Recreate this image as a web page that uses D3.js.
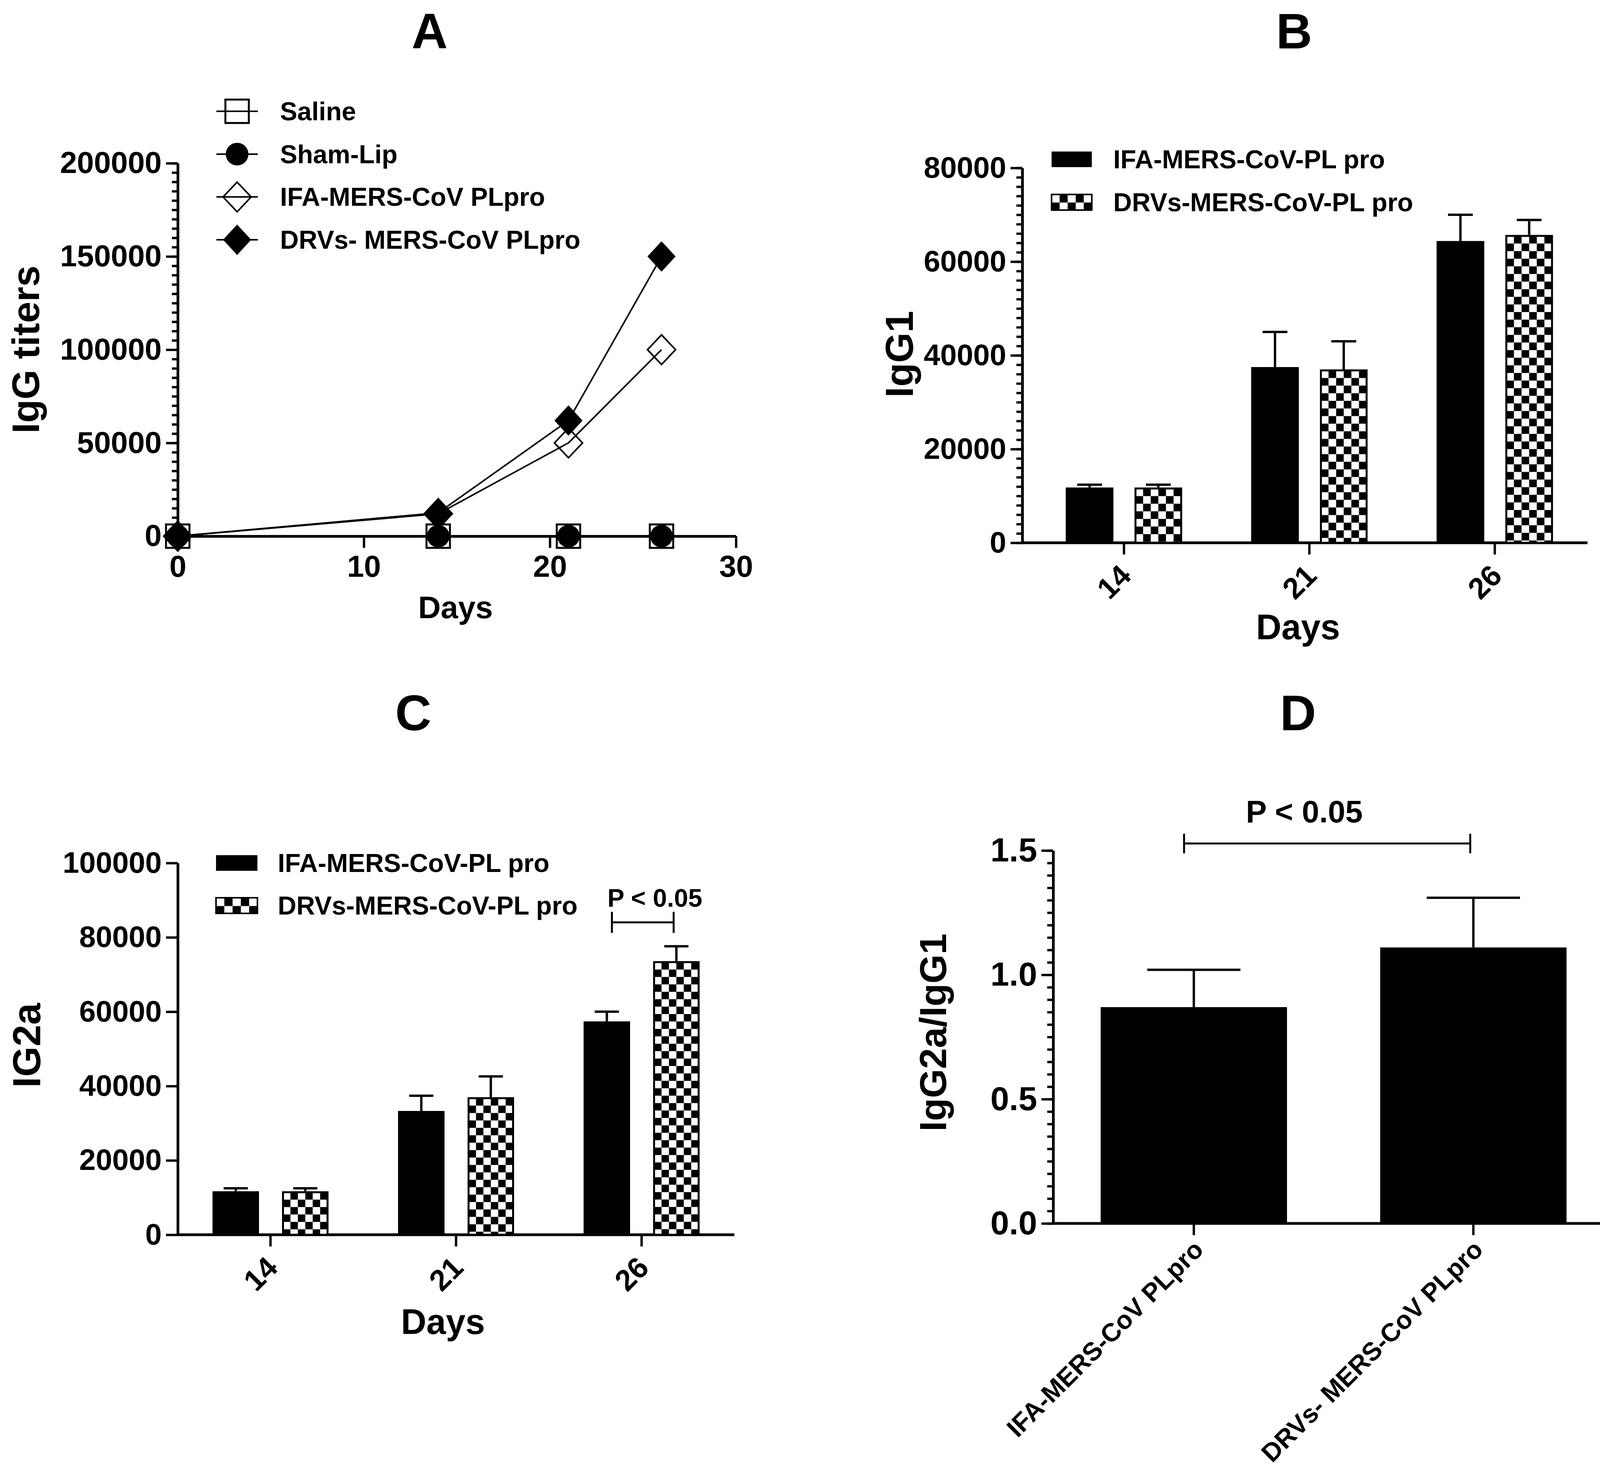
<!DOCTYPE html>
<html>
<head>
<meta charset="utf-8">
<script src="https://cdn.jsdelivr.net/npm/d3@7"></script>
<style>
  html, body { margin: 0; padding: 0; background: #fff; }
  svg { display: block; font-family: "Liberation Sans", Arial, sans-serif; font-weight: bold; }
</style>
</head>
<body>
<svg id="chart" width="4146" height="3767"></svg>
<script>
// ---- data -------------------------------------------------------------
// Panel A: IgG titers over days
const daysA = [0, 14, 21, 26];
const salineA = [0, 0, 0, 0];
const shamLipA = [0, 0, 0, 0];
const ifaA = [0, 12000, 50000, 100000];
const drvsA = [0, 12500, 62000, 150000];
const namesA = ["Saline", "Sham-Lip", "IFA-MERS-CoV PLpro", "DRVs- MERS-CoV PLpro"];
const xTicksA = [0, 10, 20, 30];
const yTicksA = [0, 50000, 100000, 150000, 200000];

// Panels B and C: grouped bars per day
const dayGroups = ["14", "21", "26"];
const barNames = ["IFA-MERS-CoV-PL pro", "DRVs-MERS-CoV-PL pro"];

const igg1Ifa = [11800, 37500, 64400];
const igg1IfaErr = [600, 7500, 5600];
const igg1Drvs = [11800, 37000, 65700];
const igg1DrvsErr = [600, 6000, 3200];
const yTicksB = [0, 20000, 40000, 60000, 80000];

const ig2aIfa = [11700, 33300, 57400];
const ig2aIfaErr = [800, 4100, 2600];
const ig2aDrvs = [11700, 37000, 73600];
const ig2aDrvsErr = [800, 5600, 4000];
const yTicksC = [0, 20000, 40000, 60000, 80000, 100000];

// Panel D: IgG2a/IgG1 ratio
const ratioGroups = ["IFA-MERS-CoV PLpro", "DRVs- MERS-CoV PLpro"];
const ratioValues = [0.87, 1.11];
const ratioErr = [0.15, 0.2];
const yTicksD = [0, 0.5, 1.0, 1.5];

// ---- helpers ----------------------------------------------------------
const svg = d3.select("#chart");
const defs = svg.append("defs");
svg.append("rect").attr("width", 4146).attr("height", 3767).attr("fill", "#fff");

function styleAxis(g, fontSize) {
  g.select(".domain").attr("stroke", "#000").attr("stroke-width", 7);
  g.selectAll(".tick line").attr("stroke", "#000").attr("stroke-width", 6);
  g.selectAll(".tick text")
    .attr("fill", "#000")
    .attr("font-size", fontSize)
    .attr("font-family", "Liberation Sans, Arial, sans-serif")
    .attr("font-weight", "bold");
}

function yAxis(x, y, ticks, minorStep, fontSize, fmt) {
  if (minorStep) {
    const [lo, hi] = y.domain();
    svg.append("g")
      .attr("transform", `translate(${x},0)`)
      .call(d3.axisLeft(y)
        .tickValues(d3.range(lo, hi + minorStep / 2, minorStep))
        .tickSize(15).tickSizeOuter(0).tickFormat(""))
      .call((g) => g.select(".domain").remove())
      .call((g) => g.selectAll(".tick line").attr("stroke", "#000").attr("stroke-width", 6));
  }
  svg.append("g")
    .attr("transform", `translate(${x},0)`)
    .call(d3.axisLeft(y).tickValues(ticks).tickSize(30).tickSizeOuter(0)
      .tickPadding(11).tickFormat(fmt))
    .call((g) => styleAxis(g, fontSize));
}

function title(text, x, y) {
  svg.append("text").attr("x", x).attr("y", y)
    .attr("text-anchor", "middle").attr("font-size", 128).text(text);
}

function yTitle(text, x, y, size) {
  svg.append("text")
    .attr("transform", `translate(${x},${y}) rotate(-90)`)
    .attr("text-anchor", "middle").attr("font-size", size).text(text);
}

function xTitle(text, x, y, size) {
  svg.append("text").attr("x", x).attr("y", y)
    .attr("text-anchor", "middle").attr("font-size", size).text(text);
}

function diamondPath(w, h) {
  return `M0,${-h}L${w},0L0,${h}L${-w},0Z`;
}

let patternId = 0;
function checker(x, y, cell) {
  const id = `chk-${patternId++}`;
  const p = defs.append("pattern")
    .attr("id", id)
    .attr("patternUnits", "userSpaceOnUse")
    .attr("x", x).attr("y", y)
    .attr("width", cell * 2).attr("height", cell * 2);
  p.append("rect").attr("width", cell * 2).attr("height", cell * 2).attr("fill", "#fff");
  p.append("rect").attr("x", cell).attr("width", cell).attr("height", cell).attr("fill", "#000");
  p.append("rect").attr("y", cell).attr("width", cell).attr("height", cell).attr("fill", "#000");
  return `url(#${id})`;
}

function errorBar(g, cx, yTop, yErr, capW) {
  g.append("path")
    .attr("d", `M${cx},${yTop}V${yErr}M${cx - capW / 2},${yErr}H${cx + capW / 2}`)
    .attr("fill", "none").attr("stroke", "#000").attr("stroke-width", 6);
}

function bracket(x1, x2, y, half) {
  svg.append("path")
    .attr("d", `M${x1},${y - half}V${y + half}M${x1},${y}H${x2}M${x2},${y - half}V${y + half}`)
    .attr("fill", "none").attr("stroke", "#000").attr("stroke-width", 5);
}

// ---- Panel A ----------------------------------------------------------
(function panelA() {
  const x = d3.scaleLinear().domain([0, 30]).range([455, 1884]);
  const y = d3.scaleLinear().domain([0, 200000]).range([1373, 418]);

  title("A", 1100, 124);

  yAxis(x(0), y, yTicksA, 5000, 78, d3.format("d"));
  svg.append("g")
    .attr("transform", `translate(0,${y(0)})`)
    .call(d3.axisBottom(x).tickValues(xTicksA).tickSize(30).tickSizeOuter(0).tickPadding(19))
    .call((g) => styleAxis(g, 78));

  yTitle("IgG titers", 100, 895, 98);
  xTitle("Days", 1166, 1583, 80);

  const series = [
    { name: namesA[0], values: salineA, kind: "square" },
    { name: namesA[1], values: shamLipA, kind: "circle" },
    { name: namesA[2], values: ifaA, kind: "openDiamond" },
    { name: namesA[3], values: drvsA, kind: "diamond" },
  ];

  const line = d3.line().x((d) => x(d[0])).y((d) => y(d[1]));
  const plot = svg.append("g");

  plot.selectAll(".series-line")
    .data(series)
    .join("path")
    .attr("class", "series-line")
    .attr("d", (s) => line(daysA.map((d, i) => [d, s.values[i]])))
    .attr("fill", "none").attr("stroke", "#000").attr("stroke-width", 4);

  function drawMarker(sel, kind) {
    if (kind === "square") {
      sel.append("rect").attr("x", -30).attr("y", -30).attr("width", 60).attr("height", 60)
        .attr("fill", "none").attr("stroke", "#000").attr("stroke-width", 5);
    } else if (kind === "circle") {
      sel.append("circle").attr("r", 29).attr("fill", "#000");
    } else if (kind === "openDiamond") {
      sel.append("path").attr("d", diamondPath(36, 38))
        .attr("fill", "none").attr("stroke", "#000").attr("stroke-width", 4);
    } else {
      sel.append("path").attr("d", diamondPath(36, 39)).attr("fill", "#000");
    }
  }

  series.forEach((s) => {
    plot.append("g").selectAll("g")
      .data(daysA.map((d, i) => [d, s.values[i]]))
      .join("g")
      .attr("transform", (d) => `translate(${x(d[0])},${y(d[1])})`)
      .each(function () { drawMarker(d3.select(this), s.kind); });
  });

  // legend
  const legend = svg.append("g").attr("transform", "translate(607,0)");
  const rowY = d3.scalePoint().domain(namesA).range([285, 614]);
  series.forEach((s) => {
    const row = legend.append("g").attr("transform", `translate(0,${rowY(s.name)})`);
    row.append("line").attr("x1", -53).attr("x2", 53)
      .attr("stroke", "#000").attr("stroke-width", 4);
    drawMarker(row, s.kind);
    row.append("text").attr("x", 110).attr("dy", "0.35em")
      .attr("font-size", 66).text(s.name);
  });
})();

// ---- Panels B and C ---------------------------------------------------
function groupedBars(opts) {
  const y = d3.scaleLinear().domain(opts.yDomain).range(opts.yRange);
  const x = d3.scaleBand().domain(dayGroups).range(opts.xRange);
  const bw = opts.barWidth;
  const offset = opts.barOffset;

  title(opts.label, opts.titleX, opts.titleY);

  yAxis(opts.axisX, y, opts.yTicks, opts.minorStep, 76, d3.format("d"));

  // x axis line and ticks
  svg.append("line")
    .attr("x1", opts.axisX).attr("x2", opts.xRange[1])
    .attr("y1", y(0)).attr("y2", y(0))
    .attr("stroke", "#000").attr("stroke-width", 7);
  svg.append("g")
    .attr("transform", `translate(0,${y(0)})`)
    .call(d3.axisBottom(x).tickSize(30).tickSizeOuter(0))
    .call((g) => g.select(".domain").remove())
    .call((g) => styleAxis(g, 76))
    .call((g) => g.selectAll(".tick text")
      .attr("x", 0).attr("y", 0).attr("dy", "0.35em")
      .attr("text-anchor", "end")
      .attr("transform", "translate(4,70) rotate(-45)"));

  const rows = dayGroups.map((d, i) => ({
    day: d,
    ifa: opts.ifa[i], ifaErr: opts.ifaErr[i],
    drvs: opts.drvs[i], drvsErr: opts.drvsErr[i],
  }));

  const plot = svg.append("g");
  rows.forEach((r) => {
    const cx = x(r.day) + x.bandwidth() / 2;
    // IFA bar (solid)
    const x1 = cx - offset - bw / 2;
    errorBar(plot, cx - offset, y(r.ifa), y(r.ifa + r.ifaErr), bw * 0.52);
    plot.append("rect")
      .attr("x", x1).attr("y", y(r.ifa))
      .attr("width", bw).attr("height", y(0) - y(r.ifa))
      .attr("fill", "#000");
    // DRVs bar (checkered)
    const x2 = cx + offset - bw / 2;
    errorBar(plot, cx + offset, y(r.drvs), y(r.drvs + r.drvsErr), bw * 0.52);
    plot.append("rect")
      .attr("x", x2 + 2.5).attr("y", y(r.drvs) + 2.5)
      .attr("width", bw - 5).attr("height", y(0) - y(r.drvs) - 2.5)
      .attr("fill", checker(x2 + 2.5, y(r.drvs) + 2.5, (bw - 5) / 6))
      .attr("stroke", "#000").attr("stroke-width", 5);
  });

  // legend
  const lg = opts.legend;
  barNames.forEach((name, i) => {
    const cy = lg.rows[i];
    svg.append("rect")
      .attr("x", lg.x).attr("y", cy - 20)
      .attr("width", lg.w).attr("height", 40)
      .attr("fill", i === 0 ? "#000" : checker(lg.x, cy - 20, (lg.w) / 5))
      .attr("stroke", "#000").attr("stroke-width", i === 0 ? 0 : 4);
    svg.append("text").attr("x", lg.textX).attr("y", cy).attr("dy", "0.35em")
      .attr("font-size", 66).text(name);
  });

  yTitle(opts.yLabel, opts.yLabelX, opts.yLabelY, 100);
  xTitle("Days", opts.daysX, opts.daysY, 90);
  return { x, y };
}

groupedBars({
  label: "B", titleX: 3313, titleY: 124,
  yDomain: [0, 80000], yRange: [1390, 430], yTicks: yTicksB, minorStep: 2000,
  axisX: 2617, xRange: [2640, 4064],
  barWidth: 122, barOffset: 88,
  ifa: igg1Ifa, ifaErr: igg1IfaErr, drvs: igg1Drvs, drvsErr: igg1DrvsErr,
  legend: { x: 2692, w: 103, textX: 2850, rows: [408, 518] },
  yLabel: "IgG1", yLabelX: 2337, yLabelY: 907,
  daysX: 3323, daysY: 1637,
});

const panelC = groupedBars({
  label: "C", titleX: 1058, titleY: 1870,
  yDomain: [0, 100000], yRange: [3162, 2210], yTicks: yTicksC, minorStep: 0,
  axisX: 455, xRange: [455, 1880],
  barWidth: 119, barOffset: 89,
  ifa: ig2aIfa, ifaErr: ig2aIfaErr, drvs: ig2aDrvs, drvsErr: ig2aDrvsErr,
  legend: { x: 553, w: 106, textX: 711, rows: [2210, 2319] },
  yLabel: "IG2a", yLabelX: 103, yLabelY: 2677,
  daysX: 1134, daysY: 3416,
});

// significance bracket for day 26 in panel C
(function () {
  const { x } = panelC;
  const cx = x("26") + x.bandwidth() / 2;
  bracket(cx - 89 + 13, cx + 89 - 7, 2362, 27);
  svg.append("text").attr("x", cx + 34).attr("y", 2322)
    .attr("text-anchor", "middle").attr("font-size", 65).text("P < 0.05");
})();

// ---- Panel D ----------------------------------------------------------
(function panelD() {
  const y = d3.scaleLinear().domain([0, 1.5]).range([3133, 2178]);
  const x = d3.scaleBand().domain(ratioGroups).range([2696, 4132])
    .paddingInner(1 / 3).paddingOuter(0.17);

  title("D", 3323, 1870);
  yAxis(2696, y, yTicksD, 0.05, 86, d3.format(".1f"));

  svg.append("g")
    .attr("transform", `translate(0,${y(0)})`)
    .call(d3.axisBottom(x).tickSize(30).tickSizeOuter(0))
    .call((g) => styleAxis(g, 66))
    .call((g) => g.select(".domain").attr("d", `M2696,0H4132`))
    .call((g) => g.selectAll(".tick text")
      .attr("x", 0).attr("y", 0).attr("dy", "0.35em")
      .attr("text-anchor", "end")
      .attr("transform", "translate(12,55) rotate(-45)"));

  const plot = svg.append("g");
  ratioGroups.forEach((grp, i) => {
    const cx = x(grp) + x.bandwidth() / 2;
    errorBar(plot, cx, y(ratioValues[i]), y(ratioValues[i] + ratioErr[i]), x.bandwidth() * 0.5);
    plot.append("rect")
      .attr("x", x(grp)).attr("y", y(ratioValues[i]))
      .attr("width", x.bandwidth()).attr("height", y(0) - y(ratioValues[i]))
      .attr("fill", "#000");
  });

  const c1 = x(ratioGroups[0]) + x.bandwidth() / 2;
  const c2 = x(ratioGroups[1]) + x.bandwidth() / 2;
  bracket(c1 - 25, c2 - 8, 2160, 25);
  svg.append("text").attr("x", (c1 + c2) / 2 - 75).attr("y", 2106)
    .attr("text-anchor", "middle").attr("font-size", 80).text("P < 0.05");

  yTitle("IgG2a/IgG1", 2422, 2644, 96);
})();
</script>
</body>
</html>
